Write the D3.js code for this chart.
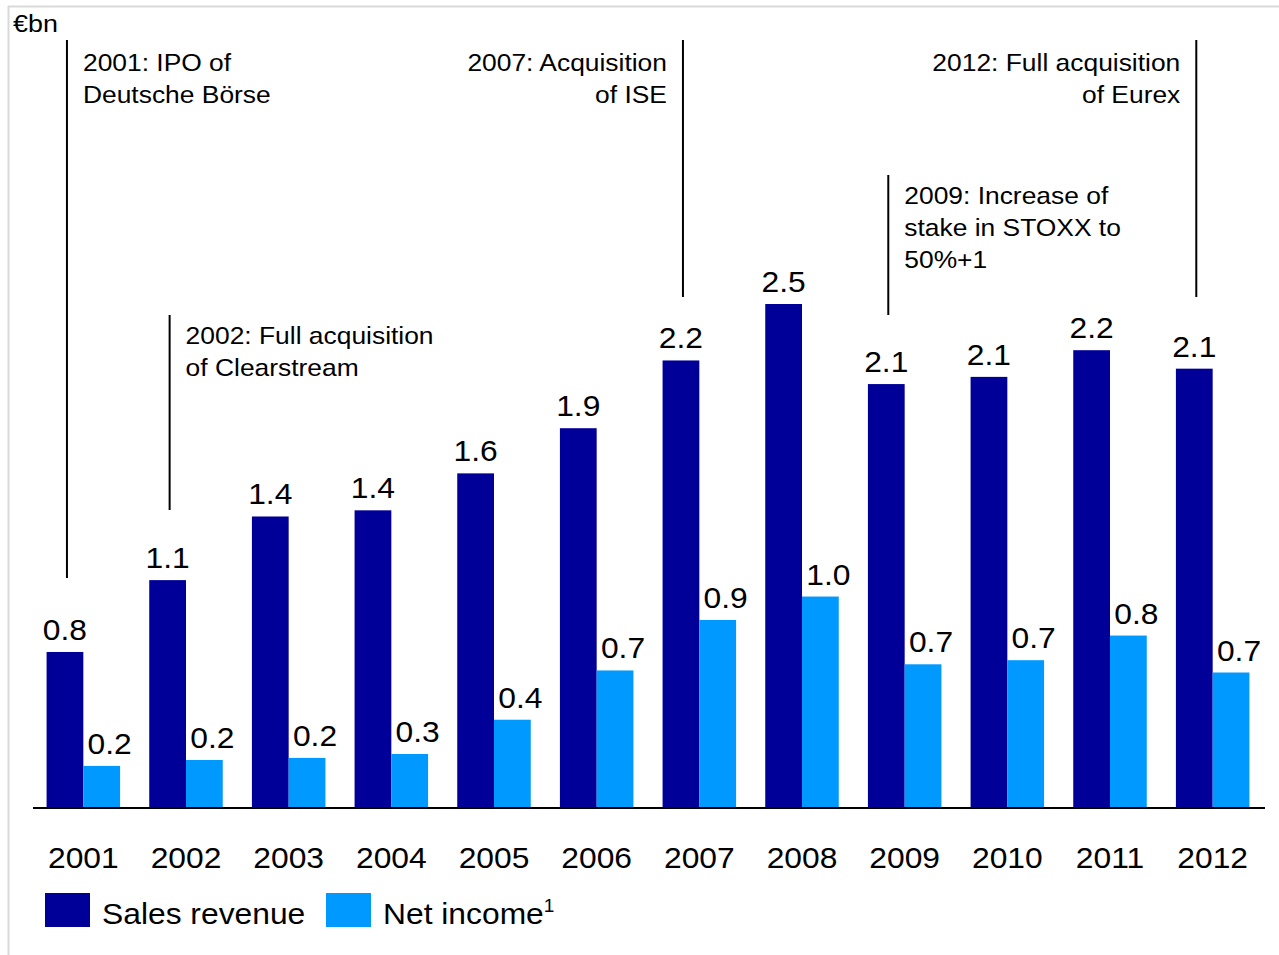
<!DOCTYPE html>
<html>
<head>
<meta charset="utf-8">
<script src="https://cdn.jsdelivr.net/npm/d3@7"></script>
<style>
  html, body { margin: 0; padding: 0; background: #fff; }
  svg { display: block; font-family: "Liberation Sans", Arial, sans-serif; }
</style>
</head>
<body>
<svg id="chart" width="1279" height="955"></svg>
<script>
const years = ["2001","2002","2003","2004","2005","2006","2007","2008","2009","2010","2011","2012"];
const salesRevenue = [0.76, 1.11, 1.42, 1.45, 1.63, 1.85, 2.18, 2.455, 2.065, 2.10, 2.23, 2.14];
const netIncome    = [0.205, 0.234, 0.244, 0.263, 0.43, 0.67, 0.916, 1.03, 0.70, 0.72, 0.84, 0.66];
const salesLabels  = ["0.8","1.1","1.4","1.4","1.6","1.9","2.2","2.5","2.1","2.1","2.2","2.1"];
const netLabels    = ["0.2","0.2","0.2","0.3","0.4","0.7","0.9","1.0","0.7","0.7","0.8","0.7"];
const seriesNames  = ["Sales revenue", "Net income"];
const unitLabel = "€bn";
const annotations = [
  { year: "2001", lines: ["2001: IPO of", "Deutsche Börse"], side: "right", top: 40, bottom: 578, textTop: 71 },
  { year: "2002", lines: ["2002: Full acquisition", "of Clearstream"], side: "right", top: 315, bottom: 510, textTop: 344 },
  { year: "2007", lines: ["2007: Acquisition", "of ISE"], side: "left", top: 40, bottom: 297, textTop: 71 },
  { year: "2009", lines: ["2009: Increase of", "stake in STOXX to", "50%+1"], side: "right", top: 175, bottom: 315, textTop: 204 },
  { year: "2012", lines: ["2012: Full acquisition", "of Eurex"], side: "left", top: 40, bottom: 297, textTop: 71 }
];

const colors = { sales: "#000099", net: "#0099ff" };
const svg = d3.select("#chart");
const BIG = 30, BIGSX = 1.06, SMALL = 24, SMALLSX = 1.1;

// helper: place a horizontally stretched text
function placeText(sel, x, y, sx) {
  return sel.attr("x", 0).attr("y", 0).attr("transform", `translate(${x},${y}) scale(${sx},1)`);
}

// frame (top and left light grey lines)
svg.append("line").attr("x1", 8).attr("x2", 1279).attr("y1", 6.5).attr("y2", 6.5)
  .attr("stroke", "#d9d9d9").attr("stroke-width", 2);
svg.append("line").attr("x1", 8.5).attr("x2", 8.5).attr("y1", 6).attr("y2", 955)
  .attr("stroke", "#d9d9d9").attr("stroke-width", 2);

const baseY = 808;
const x = d3.scaleBand().domain(years).range([32, 1264]).paddingInner(0.284).paddingOuter(0.142);
const sub = d3.scaleBand().domain(["sales","net"]).range([0, x.bandwidth()]);
const y = d3.scaleLinear().domain([0, 2.455]).range([baseY, 304]);

const g = svg.append("g");

// bars
g.selectAll("rect.sales").data(years).join("rect")
  .attr("class", "sales")
  .attr("x", d => x(d) + sub("sales"))
  .attr("width", sub.bandwidth())
  .attr("y", (d, i) => y(salesRevenue[i]))
  .attr("height", (d, i) => y(0) - y(salesRevenue[i]))
  .attr("fill", colors.sales);
g.selectAll("rect.net").data(years).join("rect")
  .attr("class", "net")
  .attr("x", d => x(d) + sub("net"))
  .attr("width", sub.bandwidth())
  .attr("y", (d, i) => y(netIncome[i]))
  .attr("height", (d, i) => y(0) - y(netIncome[i]))
  .attr("fill", colors.net);

// value labels
years.forEach((d, i) => {
  placeText(g.append("text").attr("text-anchor", "middle").attr("font-size", BIG).attr("fill", "#000").text(salesLabels[i]),
    x(d) + sub("sales") + sub.bandwidth() / 2, y(salesRevenue[i]) - 12, BIGSX);
  placeText(g.append("text").attr("text-anchor", "middle").attr("font-size", BIG).attr("fill", "#000").text(netLabels[i]),
    x(d) + sub("net") + sub.bandwidth() / 2 + 8, y(netIncome[i]) - 12, BIGSX);
});

// x axis labels and baseline
const xAxis = d3.axisBottom(x).tickSize(0).tickPadding(0);
const ax = svg.append("g").attr("transform", `translate(0,${baseY})`).call(xAxis);
ax.select(".domain").remove();
ax.selectAll("text").attr("font-size", BIG).attr("fill", "#000")
  .attr("font-family", "'Liberation Sans', Arial, sans-serif")
  .attr("dy", 0).attr("y", 0).attr("transform", `translate(0,60) scale(${BIGSX},1)`);
svg.append("line").attr("x1", 33).attr("x2", 1265).attr("y1", baseY).attr("y2", baseY)
  .attr("stroke", "#000").attr("stroke-width", 2);

// unit label
placeText(svg.append("text").attr("font-size", 24).attr("fill", "#000").text(unitLabel), 13, 32, 1.12);

// annotations
annotations.forEach(a => {
  const lx = x(a.year) + sub("sales") + sub.bandwidth() / 2 + 2;
  svg.append("line").attr("x1", lx).attr("x2", lx).attr("y1", a.top).attr("y2", a.bottom)
    .attr("stroke", "#000").attr("stroke-width", 2);
  const tx = a.side === "right" ? lx + 16 : lx - 16;
  const t = placeText(svg.append("text")
    .attr("text-anchor", a.side === "right" ? "start" : "end")
    .attr("font-size", SMALL).attr("fill", "#000"), tx, a.textTop, SMALLSX);
  a.lines.forEach((l, i) => {
    t.append("tspan").attr("x", 0).attr("dy", i === 0 ? 0 : 32).text(l);
  });
});

// legend
const legend = svg.append("g");
const legendItems = [
  { name: seriesNames[0], color: colors.sales, x: 45, sup: null },
  { name: seriesNames[1], color: colors.net, x: 326, sup: "1" }
];
legendItems.forEach(it => {
  legend.append("rect").attr("x", it.x).attr("y", 893).attr("width", 45).attr("height", 34).attr("fill", it.color);
  const t = placeText(legend.append("text").attr("font-size", BIG).attr("fill", "#000").text(it.name), it.x + 57, 924, BIGSX);
  if (it.sup) t.append("tspan").attr("dy", -12).attr("font-size", 18).text(it.sup);
});
</script>
</body>
</html>
